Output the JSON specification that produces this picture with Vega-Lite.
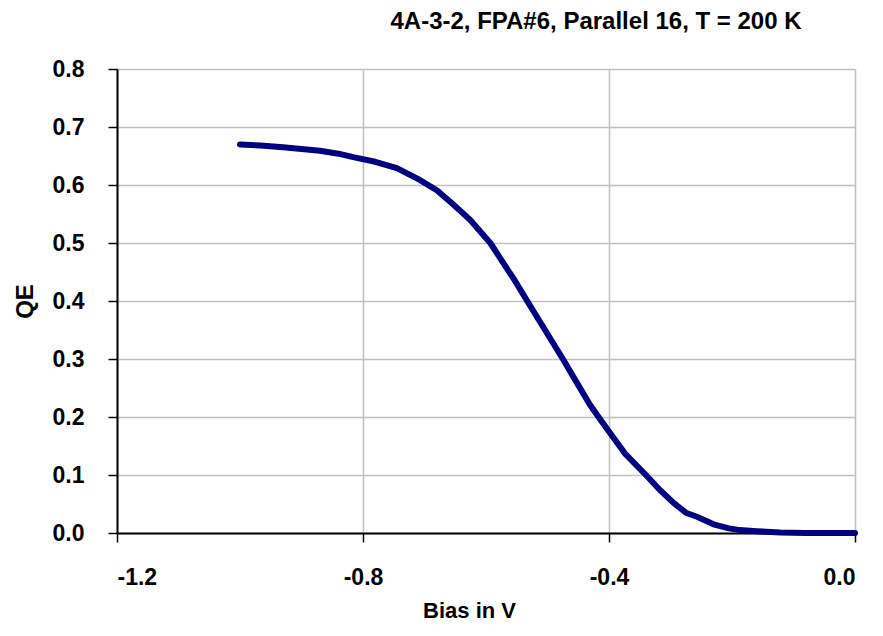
{
  "$schema": "https://vega.github.io/schema/vega-lite/v6.json",
  "autosize": {"type": "none"},
  "width": 738,
  "height": 464,
  "padding": {"left": 117, "top": 69, "right": 28, "bottom": 103},
  "background": "white",
  "title": {
    "text": "4A-3-2, FPA#6, Parallel 16, T = 200 K",
    "font": "Liberation Sans",
    "fontSize": 24,
    "fontWeight": "bold",
    "color": "black",
    "anchor": "middle",
    "dx": 110,
    "offset": 24
  },
  "config": {
    "view": {"stroke": null},
    "axis": {
      "labelFont": "Liberation Sans",
      "labelFontSize": 23,
      "labelFontWeight": "bold",
      "labelColor": "black",
      "titleFont": "Liberation Sans",
      "titleFontSize": 22,
      "titleFontWeight": "bold",
      "titleColor": "black",
      "domainColor": "black",
      "domainWidth": 2,
      "tickColor": "black",
      "tickWidth": 1.5,
      "tickSize": 9,
      "gridColor": "#c0c0c0",
      "gridWidth": 1.5,
      "gridOpacity": 1
    }
  },
  "data": {
    "values": [
      {"bias": -1.0, "qe": 0.670},
      {"bias": -0.967, "qe": 0.668},
      {"bias": -0.93, "qe": 0.665},
      {"bias": -0.9, "qe": 0.662},
      {"bias": -0.87, "qe": 0.659},
      {"bias": -0.84, "qe": 0.654},
      {"bias": -0.816, "qe": 0.648},
      {"bias": -0.78, "qe": 0.640},
      {"bias": -0.745, "qe": 0.629},
      {"bias": -0.71, "qe": 0.610},
      {"bias": -0.68, "qe": 0.591},
      {"bias": -0.655, "qe": 0.568},
      {"bias": -0.626, "qe": 0.540},
      {"bias": -0.593, "qe": 0.500},
      {"bias": -0.577, "qe": 0.474},
      {"bias": -0.553, "qe": 0.435},
      {"bias": -0.533, "qe": 0.400},
      {"bias": -0.504, "qe": 0.350},
      {"bias": -0.475, "qe": 0.300},
      {"bias": -0.455, "qe": 0.264},
      {"bias": -0.431, "qe": 0.221},
      {"bias": -0.415, "qe": 0.197},
      {"bias": -0.398, "qe": 0.172},
      {"bias": -0.374, "qe": 0.137},
      {"bias": -0.34, "qe": 0.100},
      {"bias": -0.318, "qe": 0.075},
      {"bias": -0.295, "qe": 0.052},
      {"bias": -0.275, "qe": 0.035},
      {"bias": -0.257, "qe": 0.028},
      {"bias": -0.23, "qe": 0.015},
      {"bias": -0.205, "qe": 0.008},
      {"bias": -0.187, "qe": 0.005},
      {"bias": -0.16, "qe": 0.003},
      {"bias": -0.122, "qe": 0.001},
      {"bias": -0.08, "qe": 0.0},
      {"bias": -0.04, "qe": 0.0},
      {"bias": 0.0, "qe": 0.0}
    ]
  },
  "mark": {"type": "line", "color": "#000080", "strokeWidth": 6, "strokeCap": "round", "strokeJoin": "round", "clip": false},
  "encoding": {
    "x": {
      "field": "bias",
      "type": "quantitative",
      "scale": {"domain": [-1.2, 0], "nice": false, "zero": false},
      "axis": {
        "title": "Bias in V",
        "values": [-1.2, -0.8, -0.4, 0],
        "labelExpr": "replace(format(datum.value, '.1f'), '\u2212', '-')",
        "labelPadding": 24,
        "titlePadding": 11,
        "titleX": 352
      }
    },
    "y": {
      "field": "qe",
      "type": "quantitative",
      "scale": {"domain": [0, 0.8], "nice": false},
      "axis": {
        "title": "QE",
        "titleFontSize": 24,
        "values": [0, 0.1, 0.2, 0.3, 0.4, 0.5, 0.6, 0.7, 0.8],
        "format": ".1f",
        "labelPadding": 24,
        "titlePadding": 15
      }
    }
  }
}
